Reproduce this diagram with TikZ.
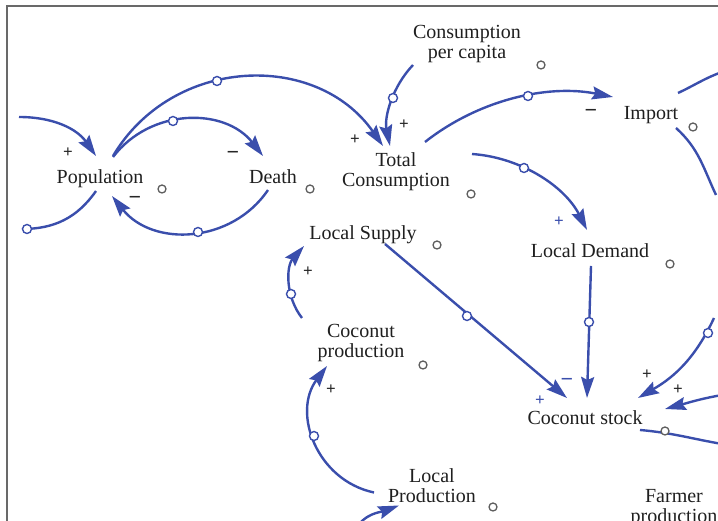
\documentclass[tikz,border=0pt]{standalone}
\usepackage{fontspec}
\newfontfamily\lblfont{Liberation Serif}
\usetikzlibrary{arrows.meta}
\definecolor{vblue}{RGB}{58,78,172}
\definecolor{fgray}{RGB}{105,105,105}
\definecolor{hgray}{RGB}{95,95,95}
\begin{document}
\begin{tikzpicture}[x=1pt,y=1pt,
  lbl/.style={font=\lblfont\fontsize{20}{20}\selectfont, text=black!88, inner sep=0pt, align=center},
  link/.style={draw=vblue, line width=2.4pt, -{Stealth[length=21pt,width=13pt,inset=3pt]}},
  plainlink/.style={draw=vblue, line width=2.4pt},
  handle/.style={circle, draw=vblue, fill=white, line width=1.4pt, minimum size=9pt, inner sep=0pt},
  vhandle/.style={circle, draw=hgray, fill=white, line width=1.3pt, minimum size=8pt, inner sep=0pt},
  sgn/.style={font=\lblfont\bfseries\fontsize{17}{17}\selectfont, text=black!85, inner sep=0pt},
  msgn/.style={font=\lblfont\bfseries\fontsize{22}{22}\selectfont, text=black!85, inner sep=0pt},
  bsgn/.style={sgn, text=vblue},
  bmsgn/.style={msgn, text=vblue},
]
\useasboundingbox (0,0) rectangle (718,521);
\draw[fgray, line width=2pt] (7,0) -- (7,515) -- (718,515);

% variables
\node[lbl] (pop) at (100,342) {Population};
\node[lbl] (death) at (273,344) {Death};
\node[lbl] (cpc) at (467,477) {Consumption\\per capita};
\node[lbl] (tc) at (396,349) {Total\\Consumption};
\node[lbl] (imp) at (651,406) {Import};
\node[lbl] (ls) at (363,286) {Local Supply};
\node[lbl] (ld) at (590,270) {Local Demand};
\node[lbl] (cp) at (361,178) {Coconut\\production};
\node[lbl] (cs) at (585,103) {Coconut stock};
\node[lbl] (lp) at (432,35.5) {Local\\Production};
\node[lbl] (fp) at (674,13) {Farmer\\production};

% free ends
\coordinate (inPop) at (19,404);
\coordinate (outPop) at (22,292);
\coordinate (outImpA) at (722,449);
\coordinate (outImpB) at (716,326);
\coordinate (inCsA) at (714,203);
\coordinate (inCsB) at (722,126);
\coordinate (outCs) at (722,77);
\coordinate (inLp) at (355,-9);

% connectors
\draw[link] (inPop) to[out=0,in=125] ([shift={(-4,23)}]pop.center);
\draw[plainlink] ([shift={(-4,-12)}]pop.center) to[out=235,in=0] (outPop);
\draw[link] ([shift={(13,23)}]pop.center) to[out=59.3,in=124.9,looseness=1.10] ([shift={(-13,26)}]tc.center);
\draw[link] ([shift={(13,22)}]pop.center) to[out=52.6,in=128.2,looseness=1.056] ([shift={(-10,21)}]death.center);
\draw[link] ([shift={(-5,-13)}]death.center) to[out=235.8,in=308.6,looseness=1.069] ([shift={(12,-17)}]pop.center);
\draw[link] ([shift={(-54,-21)}]cpc.center) to[out=226.4,in=101.8,looseness=0.903] ([shift={(-6,26)}]tc.center);
\draw[link] ([shift={(29,30)}]tc.center) to[out=38.2,in=168.8,looseness=0.892] ([shift={(-38,18)}]imp.center);
\draw[link] ([shift={(76,18)}]tc.center) to[out=-4,in=117,looseness=0.911] ([shift={(-3,21)}]ld.center);
\draw[plainlink] ([shift={(27,22)}]imp.center) to[out=25,in=200] (outImpA);
\draw[plainlink] ([shift={(25,-13)}]imp.center) to[out=-42,in=115] (outImpB);
\draw[link] ([shift={(22,-9)}]ls.center) -- ([shift={(-18,20)}]cs.center);
\draw[link] ([shift={(1,-15)}]ld.center) -- ([shift={(2,20)}]cs.center);
\draw[link] (inCsA) to[out=245,in=30] ([shift={(53,20)}]cs.center);
\draw[link] (inCsB) to[out=190,in=15] ([shift={(80,9)}]cs.center);
\draw[plainlink] ([shift={(55,-12)}]cs.center) to[out=-5,in=170] (outCs);
\draw[link] ([shift={(-59,25)}]cp.center) to[out=128.1,in=228.7,looseness=0.962] ([shift={(-59,-11)}]ls.center);
\draw[link] ([shift={(-58,-7)}]lp.center) to[out=168,in=233,looseness=1.108] ([shift={(-34,-23)}]cp.center);
\draw[link] (inLp) to[out=60,in=200] ([shift={(-33,-20)}]lp.center);

% connector handles
\node[handle] (hA) at (217,440) {};
\node[handle] (hB) at (173,400) {};
\node[handle] (hC) at (198,289) {};
\node[handle] (hD) at (393,423) {};
\node[handle] (hE) at (528,425) {};
\node[handle] (hF) at (524,353) {};
\node[handle] (hG) at (467,205) {};
\node[handle] (hH) at (589,199) {};
\node[handle] (hI) at (708,188) {};
\node[handle] (hL) at (291,227) {};
\node[handle] (hM) at (314,85) {};
\node[handle] (hO) at (27,292) {};
\node[vhandle] (hK) at (665,90) {};

% variable handles
\node[vhandle] (gpop) at (162,332) {};
\node[vhandle] (gdeath) at (310,332) {};
\node[vhandle] (gcpc) at (541,456) {};
\node[vhandle] (gtc) at (471,327) {};
\node[vhandle] (gimp) at (693,394) {};
\node[vhandle] (gls) at (437,276) {};
\node[vhandle] (gld) at (670,257) {};
\node[vhandle] (gcp) at (423,156) {};
\node[vhandle] (glp) at (493,14) {};

% polarities
\node[sgn] (s1) at (68,368) {+};
\node[sgn] (s2) at (355,381) {+};
\node[msgn] (s3) at (233,366) {−};
\node[msgn] (s4) at (135,321) {−};
\node[sgn] (s5) at (404,396) {+};
\node[msgn] (s6) at (591,408) {−};
\node[bsgn] (s7) at (559,299) {+};
\node[bmsgn] (s8) at (567,139) {−};
\node[bsgn] (s9) at (540,120) {+};
\node[sgn] (s10) at (647,146) {+};
\node[sgn] (s11) at (678,131) {+};
\node[sgn] (s12) at (308,249) {+};
\node[sgn] (s13) at (331,131) {+};
\end{tikzpicture}
\end{document}
